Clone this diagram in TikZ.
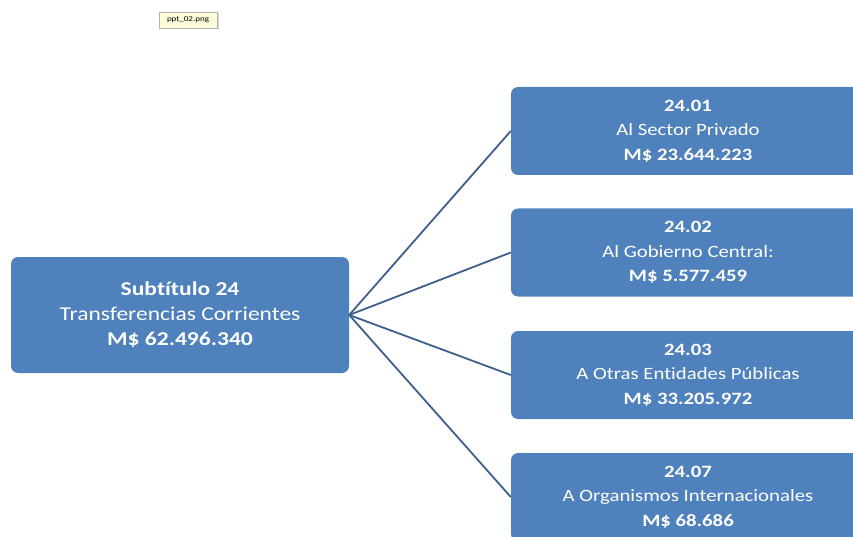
\documentclass[tikz,border=0pt]{standalone}
\usepackage{fontspec}
\setmainfont{Carlito}[FakeStretch=1.2, Ligatures=NoCommon]
\usetikzlibrary{shadows}

\definecolor{boxblue}{HTML}{4F81BD}
\definecolor{wireblue}{HTML}{3D5F8E}

\tikzset{
  budget/.style={fill=boxblue, text=white, rounded corners=7pt, align=center},
  wire/.style={draw=wireblue, line width=1.8pt},
}

\begin{document}
\begin{tikzpicture}[x=1pt, y=-1pt]
	\useasboundingbox (0,0) rectangle (853,537);
	\clip (0,0) rectangle (853,537);
	
	% File label
	\node (file label) at (188,20)
	      [draw=gray!60, fill=yellow!15, inner sep=0pt,
	       minimum width=58pt, minimum height=16pt,
	       drop shadow={shadow xshift=1.5pt, shadow yshift=-1.5pt, opacity=0.35},
	       font=\fontsize{7.5}{8}\selectfont]
	      {ppt\_02.png};
	
	% Subtitle box
	\node (sub 24) at (180,315)
	      [budget, minimum width=338pt, minimum height=116pt,
	       font=\fontsize{19.6}{25}\selectfont]
	      {\textbf{Subtítulo 24}\\Transferencias Corrientes\\\textbf{M\$ 62.496.340}};
	
	% Item boxes
	\foreach \y/\code/\name/\amount in {131/01/Al Sector Privado/23.644.223,
	                                    252.5/02/Al Gobierno Central:/5.577.459,
	                                    375/03/A Otras Entidades Públicas/33.205.972,
	                                    497/07/A Organismos Internacionales/68.686}{
		\node (item \code) at (688,\y)
		      [budget, minimum width=354pt, minimum height=88pt,
		       font=\fontsize{17.3}{24.5}\selectfont]
		      {\textbf{24.\code}\\\name\\\textbf{M\$ \amount}};
	}
	
	% Wires from subtitle to items
	\foreach \code in {01,02,03,07}{
		\draw [wire] (sub 24.east) -- (item \code.west);
	}
\end{tikzpicture}
\end{document}
